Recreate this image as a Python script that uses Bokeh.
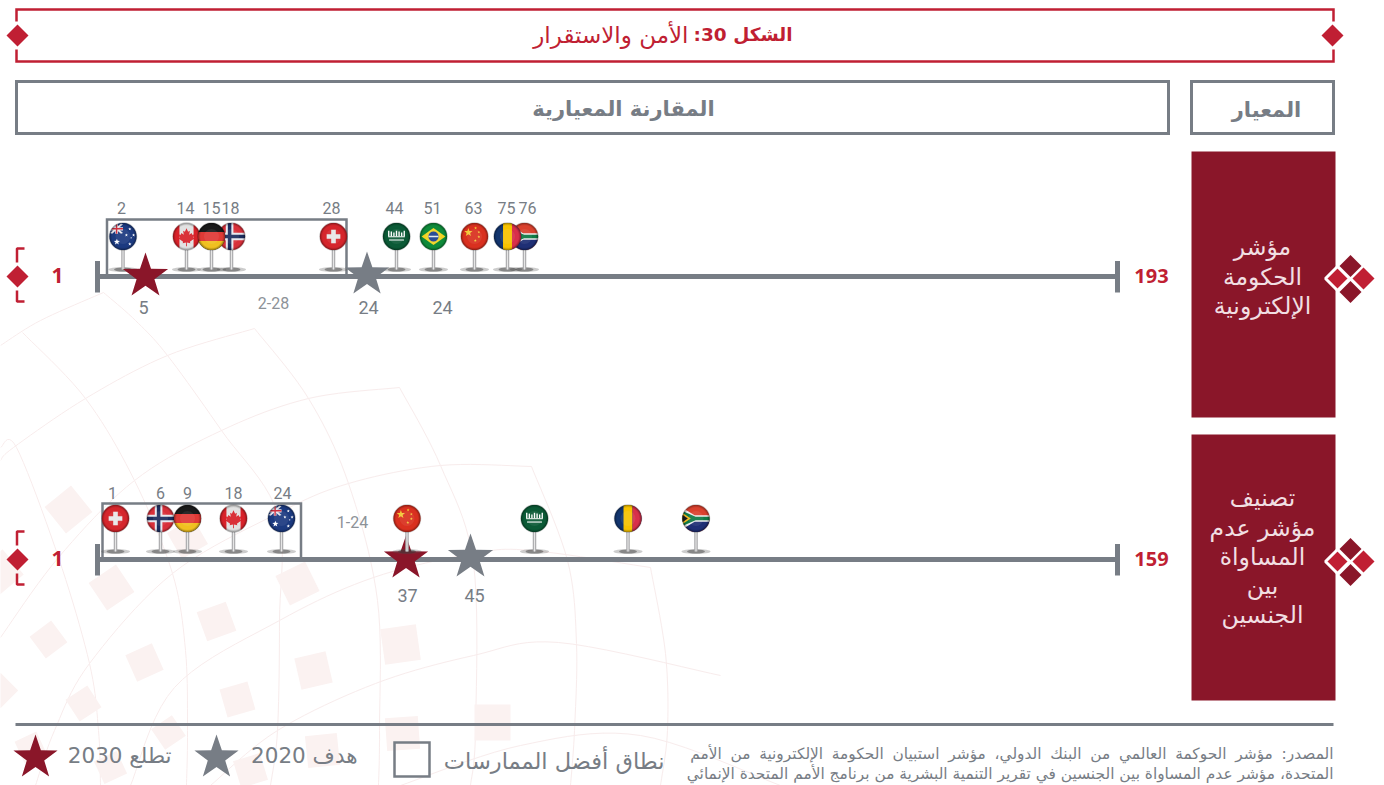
import math
from bokeh.plotting import figure
from bokeh.embed import file_html
from bokeh.resources import INLINE
from bokeh.core.properties import value

# ---- data ----
gov_countries = ["AU", "CA", "NO", "DE", "CH", "SA", "BR", "CN", "ZA", "RO"]
gov_ranks = [2, 14, 18, 15, 28, 44, 51, 63, 76, 75]
gov_pos = [122.5, 186, 231, 211, 333, 396, 433, 474, 524, 507]
gov_label_pos = [121, 185, 230, 211, 331, 394, 432, 473, 527, 506]
gov_star_2030 = 5
gov_star_2020 = 24
gov_star_pos = [145, 366.5]
gov_range = "2-28"
gov_extra = "24"
gov_min, gov_max = "1", "193"

gen_countries = ["CH", "NO", "DE", "CA", "AU", "CN", "SA", "RO", "ZA"]
gen_ranks = [1, 6, 9, 18, 24, None, None, None, None]
gen_pos = [115, 160, 187, 233, 281, 406.5, 534, 627.5, 695.5]
gen_label_pos = [112, 160, 187, 233, 282]
gen_star_2030 = 37
gen_star_2020 = 45
gen_star_pos = [405.5, 470]
gen_range = "1-24"
gen_min, gen_max = "1", "159"

title_bold = "\u202bالشكل 30:\u202c"
title_reg = "الأمن والاستقرار"
head_main = "المقارنة المعيارية"
head_side = "المعيار"
panel1 = ["مؤشر", "الحكومة", "الإلكترونية"]
panel2 = ["تصنيف", "مؤشر عدم", "المساواة", "بين", "الجنسين"]
legend_a = "\u202bتطلع 2030\u202c"
legend_b = "\u202bهدف 2020\u202c"
legend_c = "نطاق أفضل الممارسات"
source1 = "المصدر: مؤشر الحوكمة العالمي من البنك الدولي، مؤشر استبيان الحكومة الإلكترونية من الأمم"
source2 = "المتحدة، مؤشر عدم المساواة بين الجنسين في تقرير التنمية البشرية من برنامج الأمم المتحدة الإنمائي"

GRAY = "#777d85"
RED = "#c01f33"
DARK = "#8a1629"
PALE = "#fbf2f1"
AR = value("DejaVu Sans")
NUM = value("Open Sans")
THIN = value("Roboto")

p = figure(width=1384, height=785, x_range=(0, 1384), y_range=(785, 0),
           toolbar_location=None, output_backend="svg", min_border=0,
           outline_line_color=None, background_fill_color="white")
p.axis.visible = False
p.grid.visible = False


def smooth(pts, n=10):
    out = []
    P = [pts[0]] + list(pts) + [pts[-1]]
    for i in range(1, len(P) - 2):
        for k in range(n):
            t = k / n
            a = []
            for d in range(2):
                p0, p1, p2, p3 = P[i - 1][d], P[i][d], P[i + 1][d], P[i + 2][d]
                a.append(0.5 * (2 * p1 + (p2 - p0) * t + (2 * p0 - 5 * p1 + 4 * p2 - p3) * t * t
                                + (3 * p1 - p0 - 3 * p2 + p3) * t ** 3))
            out.append(a)
    out.append(list(pts[-1]))
    return out


# ---- watermark ----
bg_arcs = [
    [(0, 345), (40, 320), (103, 292)],
    [(254, 328), (167, 355), (85, 398), (13, 447), (0, 460)],
    [(399, 387), (308, 398), (221, 430), (134, 480), (58, 557), (0, 637)],
    [(531, 466), (440, 465), (348, 483), (277, 513), (172, 573), (89, 663), (54, 730), (35, 785)],
    [(650, 567), (531, 550), (473, 553), (373, 577), (279, 620), (174, 687), (130, 785)],
    [(720, 675), (558, 642), (473, 655), (375, 683), (277, 730), (210, 785)],
    [(780, 785), (640, 735), (520, 745), (400, 785)],
    [(103, 292), (135, 320), (167, 355), (221, 430), (277, 513), (279, 620), (277, 730), (270, 785)],
    [(22, 332), (85, 398), (134, 480), (172, 573), (185, 650), (187, 730), (186, 785)],
    [(0, 447), (16, 447), (58, 557), (89, 663), (98, 730), (100, 785)],
    [(254, 328), (308, 398), (348, 483), (377, 600), (379, 730), (378, 785)],
    [(399, 387), (440, 465), (473, 563), (475, 730), (470, 785)],
    [(531, 466), (567, 560), (576, 643), (574, 730), (570, 785)],
    [(650, 567), (665, 653), (667, 730), (660, 785)],
]
p.multi_line([[a[0] for a in smooth(c)] for c in bg_arcs], [[a[1] for a in smooth(c)] for c in bg_arcs],
             line_color="#f8ecec", line_width=1)
sq_x = [68, 111, 216, 297, 400, 313, 237, 144, 48, 83, 168, 402, 492, 322, 250, 110, 187, 0, 0, 30]
sq_y = [509, 587, 621, 583, 644, 670, 699, 662, 639, 703, 732, 733, 722, 750, 770, 767, 538, 572, 690, 747]
sq_w = [34, 33, 31, 33, 36, 32, 29, 29, 27, 26, 25, 33, 36, 32, 28, 25, 30, 33, 25, 24]
sq_a_deg = [-51, -56, -70, -64, 8, 13, 16, 24, 37, 33, 34, 4, 0, 6, 17, 25, -60, -50, 45, 25]
p.rect(sq_x, sq_y, width=sq_w, height=sq_w, angle=[math.radians(a) for a in sq_a_deg],
       fill_color=PALE, line_color=None)


def frame(x0, y0, x1, y1, color, w=3):
    p.quad(left=[x0], right=[x1], top=[y0], bottom=[y1], fill_alpha=0,
           line_color=color, line_width=w, line_join="miter")


def lab(xs, ys, texts, size, color, font=THIN, style="normal", align="center"):
    p.text(xs, ys, text=texts, text_font=font, text_font_size=size, text_color=color,
           text_font_style=style, text_align=align, text_baseline="middle")


def diamonds(x, y, h, color, line=None, lw=0):
    p.patch([x - h, x, x + h, x], [y, y - h, y, y + h], fill_color=color,
            line_color=line, line_width=lw)


# ---- title & headers ----
frame(16, 9, 1333, 61, RED, 2.5)
for xx in (17, 1332):
    p.quad(left=[xx - 4], right=[xx + 4], top=[21], bottom=[49], fill_color="white", line_color=None)
    diamonds(xx, 35, 11, RED)
lab([792], [34], [title_bold], "18.5px", RED, AR, "bold", "right")
lab([688], [34], [title_reg], "23px", RED, AR, "normal", "right")
frame(16, 81, 1168, 133, GRAY, 3)
frame(1191, 81, 1333, 133, GRAY, 3)
lab([623], [108], [head_main], "21px", GRAY, AR, "bold")
lab([1266], [109], [head_side], "21px", GRAY, AR, "bold")

# ---- right panels ----
for y0, y1, lines, ys, yc in [(151, 417, panel1, [246, 276, 305], 278), (434, 700, panel2, [497, 527, 556, 585, 614], 561)]:
    p.quad(left=[1191], right=[1335], top=[y0], bottom=[y1], fill_color=DARK, line_color=None)
    lab([1262] * len(lines), ys, lines, "23.5px", "#f1dfe2", AR)
    diamonds(1337, yc, 12, RED, "white", 3)
    diamonds(1350, yc - 12.5, 11, DARK)
    diamonds(1350, yc + 13.5, 11, DARK)
    diamonds(1363, yc, 11, RED)


# ---- rows: axis, min/max ----
def axis_row(y, lo, hi):
    p.segment([97], [y], [1117], [y], line_color=GRAY, line_width=5)
    p.segment([97, 1117], [y - 15.5, y - 15.5], [97, 1117], [y + 16, y + 16], line_color=GRAY, line_width=5)
    diamonds(17, y, 11, RED)
    p.multi_line([[24, 16.5, 16.5], [16.5, 16.5, 24]], [[y - 28, y - 28, y - 14], [y + 14, y + 25, y + 25]],
                 line_color=RED, line_width=2.5)
    lab([57], [y - 1], [lo], "21px", RED, NUM, "bold")
    lab([1151], [y - 1], [hi], "20px", RED, NUM, "bold")


axis_row(276, gov_min, gov_max)
axis_row(559, gen_min, gen_max)

frame(106.5, 219, 346, 275, GRAY, 2.5)
frame(102, 503, 300.5, 558, GRAY, 2.5)


# ---- flags ----
def area(poly):
    return sum(poly[i][0] * poly[(i + 1) % len(poly)][1] - poly[(i + 1) % len(poly)][0] * poly[i][1]
               for i in range(len(poly)))


def clip(subject, clipper):
    if area(clipper) < 0:
        clipper = clipper[::-1]
    out = subject
    for i in range(len(clipper)):
        a, b = clipper[i], clipper[(i + 1) % len(clipper)]
        inside = lambda q: (b[0] - a[0]) * (q[1] - a[1]) - (b[1] - a[1]) * (q[0] - a[0]) >= 0
        res = []
        for j in range(len(out)):
            c, d = out[j], out[(j + 1) % len(out)]
            ci, di = inside(c), inside(d)
            if ci != di:
                e = (b[0] - a[0]) * (c[1] - d[1]) - (b[1] - a[1]) * (c[0] - d[0])
                t = ((b[0] - a[0]) * (c[1] - a[1]) - (b[1] - a[1]) * (c[0] - a[0])) / e
                inter = (c[0] + t * (d[0] - c[0]), c[1] + t * (d[1] - c[1]))
            if ci:
                res.append(c)
                if not di:
                    res.append(inter)
            elif di:
                res.append(inter)
        out = res
        if not out:
            break
    return out


UNIT = [(math.cos(i * math.pi / 24), math.sin(i * math.pi / 24)) for i in range(48)]


def R(x0, y0, x1, y1):
    return [(x0, y0), (x1, y0), (x1, y1), (x0, y1)]


def star(cx, cy, r, inner=0.42):
    pts = []
    for i in range(10):
        rr = r if i % 2 == 0 else r * inner
        a = -math.pi / 2 + i * math.pi / 5
        pts.append((cx + rr * math.cos(a), cy + rr * math.sin(a)))
    return pts


def disc(cx, cy, r):
    return [(cx + r * u, cy + r * v) for u, v in UNIT]


LEAF = [(0, -0.6), (0.12, -0.35), (0.25, -0.42), (0.2, -0.12), (0.38, -0.25), (0.42, -0.12), (0.6, -0.15),
        (0.5, 0.08), (0.58, 0.15), (0.25, 0.38), (0.28, 0.5), (0.03, 0.45), (0.03, 0.72), (-0.03, 0.72),
        (-0.03, 0.45), (-0.28, 0.5), (-0.25, 0.38), (-0.58, 0.15), (-0.5, 0.08), (-0.6, -0.15), (-0.42, -0.12),
        (-0.38, -0.25), (-0.2, -0.12), (-0.25, -0.42), (-0.12, -0.35)]

FULL = R(-1, -1, 1, 1)
FLAGS = {
    "AU": [("#1c3a80", FULL),
           ("#e8e8ee", [(-0.95, -0.9), (-0.8, -0.95), (0, -0.25), (-0.15, -0.2)]),
           ("#e8e8ee", [(-0.15, -0.95), (0, -0.9), (-0.8, -0.2), (-0.95, -0.25)]),
           ("#e8e8ee", R(-0.95, -0.68, 0, -0.45)), ("#e8e8ee", R(-0.57, -1, -0.37, -0.2)),
           ("#d03040", R(-0.95, -0.62, 0, -0.51)), ("#d03040", R(-0.52, -1, -0.42, -0.2)),
           ("white", star(-0.45, 0.4, 0.24)), ("white", star(0.5, -0.55, 0.12)), ("white", star(0.25, -0.1, 0.12)),
           ("white", star(0.78, -0.1, 0.12)), ("white", star(0.5, 0.55, 0.13)), ("white", star(0.6, 0.1, 0.07))],
    "CA": [("#e2e2e2", FULL), ("#d8222a", R(-1, -1, -0.52, 1)), ("#d8222a", R(0.52, -1, 1, 1)), ("#d8222a", LEAF)],
    "NO": [("#d8303a", FULL), ("#e8e8ee", R(-1, -0.28, 1, 0.28)), ("#e8e8ee", R(-0.42, -1, 0.14, 1)),
           ("#1d2d5e", R(-1, -0.13, 1, 0.13)), ("#1d2d5e", R(-0.27, -1, -0.01, 1))],
    "DE": [("#1a1a1a", FULL), ("#e03a36", R(-1, -0.33, 1, 0.33)), ("#f0c020", R(-1, 0.33, 1, 1))],
    "CH": [("#d5262c", FULL), ("#e8e8e8", R(-0.5, -0.17, 0.5, 0.17)), ("#e8e8e8", R(-0.17, -0.5, 0.17, 0.5))],
    "SA": [("#0b5a36", FULL)] + [("white", R(-0.62 + i * 0.19, -0.42 + (i % 3) * 0.06, -0.52 + i * 0.19, -0.02))
                                 for i in range(7)] + [("white", R(-0.62, -0.02, 0.62, 0.05)),
                                                       ("white", R(-0.55, 0.22, 0.55, 0.3))],
    "BR": [("#0e8a3a", FULL), ("#f2d320", [(-0.88, 0), (0, -0.62), (0.88, 0), (0, 0.62)]),
           ("#1a3f8f", disc(0, 0, 0.37)), ("#dfe6ee", R(-0.36, -0.05, 0.36, 0.05))],
    "CN": [("#d9301f", FULL), ("#f2c93a", star(-0.45, -0.3, 0.32)), ("#f2c93a", star(0.08, -0.62, 0.11)),
           ("#f2c93a", star(0.32, -0.32, 0.11)), ("#f2c93a", star(0.32, 0.02, 0.11)), ("#f2c93a", star(0.06, 0.3, 0.11))],
    "RO": [("#12356e", FULL), ("#f7c300", R(-0.33, -1, 0.33, 1)), ("#d8304a", R(0.33, -1, 1, 1))],
    "ZA": [("#d9412e", FULL), ("#1f2f75", R(-1, 0, 1, 1)),
           ("#eeeeee", [(-1, -0.78), (-0.1, -0.24), (1, -0.24), (1, 0.24), (-0.1, 0.24), (-1, 0.78)]),
           ("#0f7a45", [(-1, -0.55), (-0.03, -0.12), (1, -0.12), (1, 0.12), (-0.03, 0.12), (-1, 0.55)]),
           ("#f2b820", [(-1, -0.42), (-0.38, 0), (-1, 0.42)]), ("#1a1a1a", [(-1, -0.27), (-0.6, 0), (-1, 0.27)])],
}
FLAG_R = 13.6


def pins(pos, codes, y):
    n = len(pos)
    base = y + 33
    p.ellipse(pos, [base] * n, width=29, height=5, fill_color="#555555", fill_alpha=0.3, line_color=None)
    p.ellipse(pos, [base] * n, width=18, height=4, fill_color="#333333", fill_alpha=0.45, line_color=None)
    p.segment(pos, [y + 10] * n, pos, [base] * n, line_color="#a9a9ab", line_width=3.5)
    p.segment(pos, [y + 10] * n, pos, [base] * n, line_color="#e6e6e6", line_width=1.2)
    for cx, code in zip(pos, codes):
        xs, ys, cs = [], [], []
        for col, poly in FLAGS[code]:
            c = clip(poly, UNIT)
            if c:
                xs.append([cx + FLAG_R * a for a, _ in c])
                ys.append([y + FLAG_R * b for _, b in c])
                cs.append(col)
        p.patches(xs, ys, fill_color=cs, line_color=None)
        p.scatter([cx], [y], size=15, marker="circle", fill_color="white", fill_alpha=0.07, line_color=None)
        for sz, al in [(27, 0.22), (25.5, 0.13), (24, 0.07)]:
            p.scatter([cx], [y], size=sz, marker="circle", fill_color=None, line_color="black",
                      line_width=1.5, line_alpha=al)


def big_star(x, tip, bottom, color):
    r = (bottom - tip) / 1.809
    s = star(x, tip + r, r, inner=0.395)
    p.patch([a for a, _ in s], [b for _, b in s], fill_color=color, line_color=None)


pins(gov_pos, gov_countries, 236)
big_star(gov_star_pos[0], 252, 295, DARK)
big_star(gov_star_pos[1], 251, 293, GRAY)
big_star(gen_star_pos[0], 535, 577, DARK)
big_star(gen_star_pos[1], 533, 576, GRAY)
pins(gen_pos, gen_countries, 518)

lab(gov_label_pos, [207.5] * len(gov_ranks), [str(r) for r in gov_ranks], "16px", GRAY)
lab(gen_label_pos, [492.5] * 5, [str(r) for r in gen_ranks[:5]], "16px", GRAY)
lab([143, 368], [306.5, 306.5], [str(gov_star_2030), str(gov_star_2020)], "18px", GRAY)
lab([442], [306.5], [gov_extra], "18px", GRAY)
lab([273], [302.5], [gov_range], "16px", "#8d9298")
lab([352], [521.5], [gen_range], "16px", "#8d9298")
lab([407, 474], [594.5, 594.5], [str(gen_star_2030), str(gen_star_2020)], "18px", GRAY)

# ---- footer ----
p.segment([15], [724], [1333], [724], line_color=GRAY, line_width=3)
big_star(35, 734, 776, DARK)
big_star(216, 734, 776, GRAY)
frame(394, 742, 429, 776, GRAY, 2.5)
lab([171], [755], [legend_a], "21.5px", GRAY, AR, "normal", "right")
lab([357], [755], [legend_b], "21.5px", GRAY, AR, "normal", "right")
lab([664], [760], [legend_c], "22.5px", GRAY, AR, "normal", "right")
lab([1333], [753], [source1.replace(" ", " \u2005")], "15.4px", GRAY, AR, "normal", "right")
lab([1333], [773], [source2], "15.4px", GRAY, AR, "normal", "right")

html = file_html(p, INLINE)
html = html.replace("</head>", "<style>html,body{margin:0;padding:0;overflow:hidden}</style></head>", 1)
open("out.html", "w").write(html)
